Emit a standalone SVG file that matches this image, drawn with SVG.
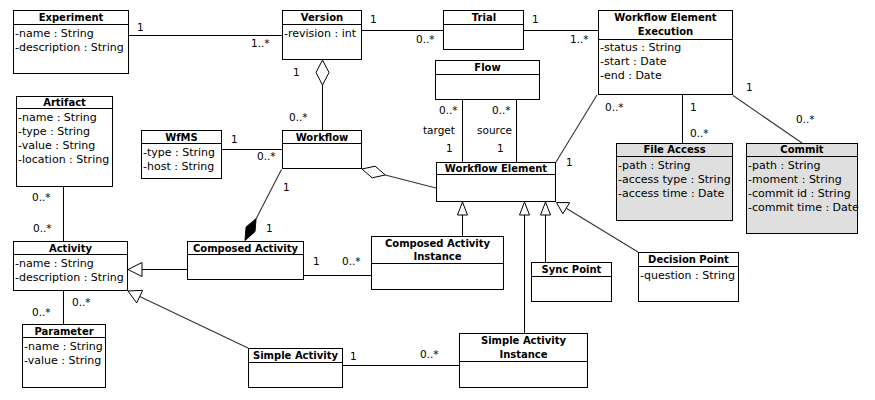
<svg xmlns="http://www.w3.org/2000/svg" width="875" height="400" viewBox="0 0 875 400">
<style>
.box{fill:#fff;stroke:#000;stroke-width:1}
.gray{fill:#dfdfdf;stroke:#000;stroke-width:1}
.sep{stroke:#000;stroke-width:1}
.t{font-family:"DejaVu Sans",sans-serif;font-size:10px;font-weight:bold;text-anchor:middle;fill:#000}
.a{font-family:"DejaVu Sans",sans-serif;font-size:11px;fill:#000}
.m{font-family:"DejaVu Sans",sans-serif;font-size:10.5px;fill:#000}
.ln{stroke:#000;stroke-width:1;fill:none}
.dg{stroke:#333;stroke-width:1.1;fill:none}
.tri{fill:#fff;stroke:#000;stroke-width:1}
</style>
<rect width="875" height="400" fill="#fff"/>

<g id="connectors">
  <!-- Experiment - Version -->
  <line class="ln" x1="129" y1="35.5" x2="282" y2="35.5"/>
  <text class="m" x="137" y="31">1</text>
  <text class="m" x="251" y="47">1..*</text>
  <!-- Version - Trial -->
  <line class="ln" x1="362" y1="30.5" x2="443" y2="30.5"/>
  <text class="m" x="370" y="23">1</text>
  <text class="m" x="416" y="43">0..*</text>
  <!-- Trial - WEE -->
  <line class="ln" x1="524" y1="30.5" x2="598" y2="30.5"/>
  <text class="m" x="532" y="23">1</text>
  <text class="m" x="570" y="43">1..*</text>
  <!-- Version - Workflow aggregation -->
  <polygon class="tri" points="322.5,60 329,72.5 322.5,85 316,72.5"/>
  <line class="ln" x1="322.5" y1="85" x2="322.5" y2="130"/>
  <text class="m" x="293" y="76">1</text>
  <text class="m" x="289" y="121">0..*</text>
  <!-- WfMS - Workflow -->
  <line class="ln" x1="222" y1="149.5" x2="282" y2="149.5"/>
  <text class="m" x="231" y="143">1</text>
  <text class="m" x="257" y="160">0..*</text>
  <!-- Workflow - Workflow Element aggregation -->
  <polygon class="tri" points="362,169 375.1,166.2 385.3,175 372.1,177.8"/>
  <line class="dg" x1="385.3" y1="175" x2="436" y2="188"/>
  <!-- Workflow - Composed Activity composition -->
  <line class="dg" x1="281.5" y1="169.5" x2="256.1" y2="218.7"/>
  <polygon points="245,240.5 246.1,227 256.1,218.7 255,231.6" fill="#000" stroke="#000" stroke-width="1"/>
  <text class="m" x="283" y="191">1</text>
  <text class="m" x="266" y="232">1</text>
  <!-- Flow - Workflow Element -->
  <line class="ln" x1="462.5" y1="100" x2="462.5" y2="162"/>
  <line class="ln" x1="516.5" y1="100" x2="516.5" y2="162"/>
  <text class="m" x="439" y="114">0..*</text>
  <text class="m" x="423" y="134">target</text>
  <text class="m" x="446" y="152">1</text>
  <text class="m" x="492" y="114">0..*</text>
  <text class="m" x="477" y="134">source</text>
  <text class="m" x="497" y="152">1</text>
  <!-- WEE - Workflow Element -->
  <line class="dg" x1="597" y1="95" x2="556" y2="162"/>
  <text class="m" x="605" y="111">0..*</text>
  <text class="m" x="566" y="166">1</text>
  <!-- WEE - File Access -->
  <line class="ln" x1="682.5" y1="95" x2="682.5" y2="143"/>
  <text class="m" x="690" y="111">1</text>
  <text class="m" x="690" y="137">0..*</text>
  <!-- WEE - Commit -->
  <line class="dg" x1="733" y1="95.5" x2="802" y2="143"/>
  <text class="m" x="746" y="91">1</text>
  <text class="m" x="796" y="123">0..*</text>
  <!-- Artifact - Activity -->
  <line class="ln" x1="63.5" y1="187" x2="63.5" y2="241"/>
  <text class="m" x="32" y="201">0..*</text>
  <text class="m" x="33" y="232">0..*</text>
  <!-- Activity - Parameter -->
  <line class="ln" x1="63.5" y1="290" x2="63.5" y2="324"/>
  <text class="m" x="72" y="306">0..*</text>
  <text class="m" x="32" y="316">0..*</text>
  <!-- Composed Activity -> Activity -->
  <line class="ln" x1="142" y1="269.5" x2="187" y2="269.5"/>
  <polygon class="tri" points="128,269.5 142,262.5 142,276.5"/>
  <!-- Simple Activity -> Activity -->
  <line class="dg" x1="139.7" y1="296.6" x2="248" y2="348"/>
  <polygon class="tri" points="128,291 142.7,290.3 136.7,302.9"/>
  <!-- Composed Activity - CAI -->
  <line class="ln" x1="304" y1="275.5" x2="371" y2="275.5"/>
  <text class="m" x="313" y="265">1</text>
  <text class="m" x="342" y="265">0..*</text>
  <!-- CAI -> WE -->
  <line class="ln" x1="462.5" y1="215" x2="462.5" y2="236"/>
  <polygon class="tri" points="462.5,202 457.5,215 467.5,215"/>
  <!-- SAI -> WE -->
  <line class="ln" x1="524.5" y1="215" x2="524.5" y2="333"/>
  <polygon class="tri" points="524.5,202 519.5,215 529.5,215"/>
  <!-- Sync Point -> WE -->
  <line class="ln" x1="545.5" y1="215" x2="545.5" y2="262"/>
  <polygon class="tri" points="545.5,202 540.5,215 550.5,215"/>
  <!-- Decision Point -> WE -->
  <line class="dg" x1="566.2" y1="208.2" x2="638" y2="252"/>
  <polygon class="tri" points="556.5,202.5 569.6,202.7 562.8,213.8"/>
  <!-- Simple Activity - SAI -->
  <line class="ln" x1="343" y1="365.5" x2="459" y2="365.5"/>
  <text class="m" x="350" y="360">1</text>
  <text class="m" x="420" y="358">0..*</text>
</g>

<g id="experiment">
  <rect class="box" x="13.5" y="10.5" width="115" height="63"/>
  <line class="sep" x1="13.5" y1="24.5" x2="128.5" y2="24.5"/>
  <text class="t" x="71" y="21">Experiment</text>
  <text class="a" x="15" y="37">-name : String</text>
  <text class="a" x="15" y="51">-description : String</text>
</g>

<g id="version">
  <rect class="box" x="282.5" y="10.5" width="79" height="49"/>
  <line class="sep" x1="282.5" y1="24.5" x2="361.5" y2="24.5"/>
  <text class="t" x="322" y="21">Version</text>
  <text class="a" x="284" y="37">-revision : int</text>
</g>

<g id="trial">
  <rect class="box" x="443.5" y="10.5" width="80" height="39"/>
  <line class="sep" x1="443.5" y1="24.5" x2="523.5" y2="24.5"/>
  <text class="t" x="484" y="21">Trial</text>
</g>

<g id="workflow-element-execution">
  <rect class="box" x="598.5" y="10.5" width="134" height="84"/>
  <line class="sep" x1="598.5" y1="39.5" x2="732.5" y2="39.5"/>
  <text class="t" x="665.5" y="21">Workflow Element</text>
  <text class="t" x="665.5" y="35">Execution</text>
  <text class="a" x="600" y="51">-status : String</text>
  <text class="a" x="600" y="65">-start : Date</text>
  <text class="a" x="600" y="79">-end : Date</text>
</g>

<g id="flow">
  <rect class="box" x="435.5" y="60.5" width="104" height="39"/>
  <line class="sep" x1="435.5" y1="74.5" x2="539.5" y2="74.5"/>
  <text class="t" x="487.5" y="71">Flow</text>
</g>

<g id="artifact">
  <rect class="box" x="16.5" y="96.5" width="96" height="90"/>
  <line class="sep" x1="16.5" y1="108.5" x2="112.5" y2="108.5"/>
  <text class="t" x="64.5" y="106">Artifact</text>
  <text class="a" x="18" y="121">-name : String</text>
  <text class="a" x="18" y="135">-type : String</text>
  <text class="a" x="18" y="149">-value : String</text>
  <text class="a" x="18" y="163">-location : String</text>
</g>

<g id="wfms">
  <rect class="box" x="141.5" y="130.5" width="80" height="48"/>
  <line class="sep" x1="141.5" y1="143.5" x2="221.5" y2="143.5"/>
  <text class="t" x="181.5" y="141">WfMS</text>
  <text class="a" x="143" y="156">-type : String</text>
  <text class="a" x="143" y="170">-host : String</text>
</g>

<g id="workflow">
  <rect class="box" x="282.5" y="130.5" width="79" height="38"/>
  <line class="sep" x1="282.5" y1="143.5" x2="361.5" y2="143.5"/>
  <text class="t" x="322" y="141">Workflow</text>
</g>

<g id="workflow-element">
  <rect class="box" x="436.5" y="162.5" width="119" height="39"/>
  <line class="sep" x1="436.5" y1="174.5" x2="555.5" y2="174.5"/>
  <text class="t" x="496" y="172">Workflow Element</text>
</g>

<g id="file-access">
  <rect class="gray" x="616.5" y="143.5" width="116" height="77"/>
  <line class="sep" x1="616.5" y1="156.5" x2="732.5" y2="156.5"/>
  <text class="t" x="674.5" y="153">File Access</text>
  <text class="a" x="618" y="169">-path : String</text>
  <text class="a" x="618" y="183">-access type : String</text>
  <text class="a" x="618" y="197">-access time : Date</text>
</g>

<g id="commit">
  <rect class="gray" x="746.5" y="143.5" width="111" height="90"/>
  <line class="sep" x1="746.5" y1="156.5" x2="857.5" y2="156.5"/>
  <text class="t" x="802" y="153">Commit</text>
  <text class="a" x="748" y="169">-path : String</text>
  <text class="a" x="748" y="183">-moment : String</text>
  <text class="a" x="748" y="197">-commit id : String</text>
  <text class="a" x="748" y="211">-commit time : Date</text>
</g>

<g id="activity">
  <rect class="box" x="13.5" y="241.5" width="114" height="49"/>
  <line class="sep" x1="13.5" y1="254.5" x2="127.5" y2="254.5"/>
  <text class="t" x="70.5" y="252">Activity</text>
  <text class="a" x="15" y="267">-name : String</text>
  <text class="a" x="15" y="281">-description : String</text>
</g>

<g id="composed-activity">
  <rect class="box" x="187.5" y="241.5" width="116" height="38"/>
  <line class="sep" x1="187.5" y1="254.5" x2="303.5" y2="254.5"/>
  <text class="t" x="245.5" y="252">Composed Activity</text>
</g>

<g id="composed-activity-instance">
  <rect class="box" x="371.5" y="236.5" width="132" height="53"/>
  <line class="sep" x1="371.5" y1="263.5" x2="503.5" y2="263.5"/>
  <text class="t" x="437.5" y="247">Composed Activity</text>
  <text class="t" x="437.5" y="260">Instance</text>
</g>

<g id="sync-point">
  <rect class="box" x="531.5" y="262.5" width="80" height="39"/>
  <line class="sep" x1="531.5" y1="276.5" x2="611.5" y2="276.5"/>
  <text class="t" x="571.5" y="273">Sync Point</text>
</g>

<g id="decision-point">
  <rect class="box" x="638.5" y="252.5" width="100" height="49"/>
  <line class="sep" x1="638.5" y1="266.5" x2="738.5" y2="266.5"/>
  <text class="t" x="688.5" y="263">Decision Point</text>
  <text class="a" x="640" y="279">-question : String</text>
</g>

<g id="parameter">
  <rect class="box" x="22.5" y="324.5" width="83" height="63"/>
  <line class="sep" x1="22.5" y1="337.5" x2="105.5" y2="337.5"/>
  <text class="t" x="64" y="335">Parameter</text>
  <text class="a" x="24" y="350">-name : String</text>
  <text class="a" x="24" y="364">-value : String</text>
</g>

<g id="simple-activity">
  <rect class="box" x="248.5" y="348.5" width="94" height="39"/>
  <line class="sep" x1="248.5" y1="362.5" x2="342.5" y2="362.5"/>
  <text class="t" x="295.5" y="359">Simple Activity</text>
</g>

<g id="simple-activity-instance">
  <rect class="box" x="459.5" y="333.5" width="128" height="54"/>
  <line class="sep" x1="459.5" y1="361.5" x2="587.5" y2="361.5"/>
  <text class="t" x="523.5" y="344">Simple Activity</text>
  <text class="t" x="523.5" y="358">Instance</text>
</g>
</svg>
